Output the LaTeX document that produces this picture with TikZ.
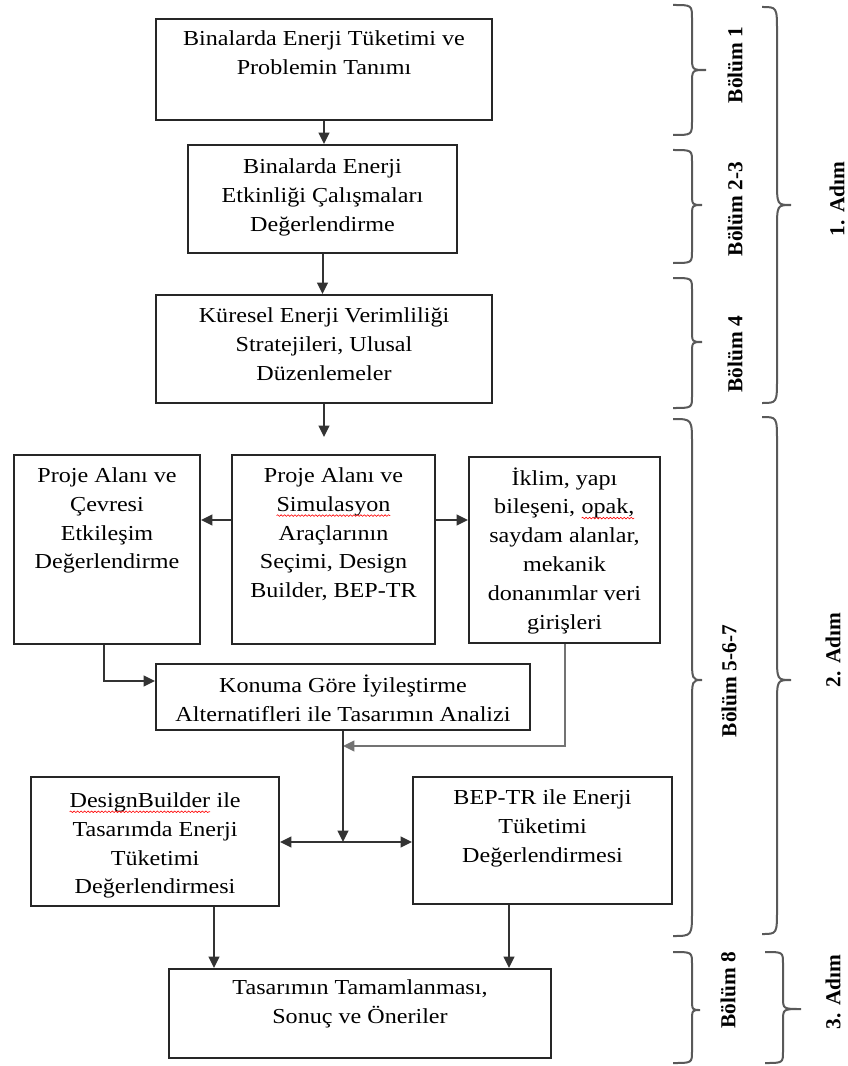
\documentclass[tikz,border=0pt]{standalone}
\usepackage{fontspec}
\setmainfont{Liberation Serif}[FakeStretch=1.13]
\newfontfamily\lblfont{Liberation Serif}
\usetikzlibrary{arrows.meta,calc,decorations.pathmorphing}
\newcommand\pxl[1]{\dimexpr #1pt*3/4\relax}
\newcommand\spell[1]{\tikz[baseline=(w.base)]{\node[inner sep=0pt,outer sep=0pt] (w) {#1};
  \draw[red, line width=0.45pt, decorate, decoration={snake, amplitude=0.6pt, segment length=2.6pt}]
   ([yshift=-3.2pt]w.base west) -- ([yshift=-3.2pt]w.base east);}}
\tikzset{
  box/.style={draw=black!85, line width=1.5pt, anchor=north west, inner sep=0pt,
    font=\fontsize{16}{21.6}\selectfont},
  arr/.style={draw=black!80, line width=1.5pt, -{Triangle[length=8.5pt,width=8pt]}},
  arrg/.style={draw=black!55, line width=1.5pt, -{Triangle[length=8.5pt,width=8pt]}},
  brc/.style={draw=black!65, line width=1.5pt},
  lbl/.style={rotate=90, inner sep=0pt, font=\lblfont\fontsize{16}{19}\selectfont\bfseries}
}
\newcommand\boxnode[7]{\node[box] (#1) at (#2,#3) {\parbox[c][\pxl{#5}][t]{\pxl{#4}}{\centering\rule{0pt}{\pxl{#6}}#7}};}
\newcommand\mybrace[7]{\draw[brc] (#1,#4) .. controls (#2,#4) and (#2,#4) .. (#2,{#4+#7}) -- (#2,{#5-#7}) .. controls (#2,#5) and (#2,#5) .. (#3,#5) .. controls (#2,#5) and (#2,#5) .. (#2,{#5+#7}) -- (#2,{#6-#7}) .. controls (#2,#6) and (#2,#6) .. (#1,#6);}
\begin{document}
\begin{tikzpicture}[x=0.75pt, y={(0pt,-0.75pt)}]
\fill[white] (0,0) rectangle (847,1066);
\useasboundingbox (0,0) rectangle (847,1066);

\boxnode{b1}{155}{18}{336}{101}{27}{Binalarda Enerji Tüketimi ve\\Problemin Tanımı}
\boxnode{b2}{187}{144}{269}{108}{29}{Binalarda Enerji\\Etkinliği Çalışmaları\\Değerlendirme}
\boxnode{b3}{155}{294}{336}{108}{27.5}{Küresel Enerji Verimliliği\\Stratejileri, Ulusal\\Düzenlemeler}
\boxnode{pl}{13}{454}{186}{189}{27.5}{Proje Alanı ve\\Çevresi\\Etkileşim\\Değerlendirme}
\boxnode{pc}{231}{454}{203}{189}{27.5}{Proje Alanı ve\\\spell{Simulasyon}\\Araçlarının\\Seçimi, Design\\Builder, BEP-TR}
\boxnode{pr}{468}{456}{191}{186}{28}{İklim, yapı\\bileşeni, \spell{opak,}\\saydam alanlar,\\mekanik\\donanımlar veri\\girişleri}
\boxnode{kn}{155}{663}{374}{66}{28.5}{Konuma Göre İyileştirme\\Alternatifleri ile Tasarımın Analizi}
\boxnode{db}{30}{776}{248}{129}{30.5}{\spell{DesignBuilder} ile\\Tasarımda Enerji\\Tüketimi\\Değerlendirmesi}
\boxnode{bp}{412}{776}{259}{127}{27.5}{BEP-TR ile Enerji\\Tüketimi\\Değerlendirmesi}
\boxnode{tt}{168}{968}{382}{89}{25.5}{Tasarımın Tamamlanması,\\Sonuç ve Öneriler}

% connectors
\draw[arr] (b1.south) -- (b1.south |- b2.north);
\draw[arr] (b2.south) -- (b2.south |- b3.north);
\draw[arr, shorten >=12.75pt] (b3.south) -- (b3.south |- pc.north);
\coordinate (pcw) at ($(pc.west)+(0,-29.5)$);
\coordinate (pce) at ($(pc.east)+(0,-29.5)$);
\draw[arr] (pcw) -- (pcw -| pl.east);
\draw[arr] (pce) -- (pce -| pr.west);
\coordinate (plb) at ($(pl.south)+(-3,0)$);
\coordinate (knw) at ($(kn.west)+(0,-16)$);
\draw[arr] (plb) |- (knw);
\coordinate (j1) at ($(kn.south)+(0,15)$);
\coordinate (j) at ($(kn.south)+(0,111)$);
\draw[arrg] (pr.south) |- (j1);
\draw[arr] (kn.south) -- (j);
\draw[arr] (j) -- (j -| db.east);
\draw[arr] (j) -- (j -| bp.west);
\coordinate (d1) at ($(db.south)+(59,0)$);
\coordinate (d2) at ($(bp.south)+(-33.5,0)$);
\draw[arr] (d1) -- (d1 |- tt.north);
\draw[arr] (d2) -- (d2 |- tt.north);

% braces
\mybrace{673}{692}{706}{5}{70}{135}{14}
\mybrace{673}{692}{702}{150}{205}{263}{12}
\mybrace{673}{692}{702}{278}{342}{408}{12}
\mybrace{762}{777}{791}{7}{205}{403}{25}
\mybrace{673}{692}{702}{419}{680}{936}{25}
\mybrace{762}{777}{791}{417}{680}{934}{25}
\mybrace{673}{692}{700}{952}{1010}{1063}{12}
\mybrace{765}{783}{801}{952}{1009}{1063}{12}

% labels
\node[lbl] (l1) at (735,65) {Bölüm 1};
\node[lbl] (l2) at (735,209) {Bölüm 2-3};
\node[lbl] (l3) at (735,354) {Bölüm 4};
\node[lbl] (l4) at (729,681) {Bölüm 5-6-7};
\node[lbl] (l5) at (728,990) {Bölüm 8};
\node[lbl] (a1) at (837,199) {1. Adım};
\node[lbl] (a2) at (833,650) {2. Adım};
\node[lbl] (a3) at (833,992) {3. Adım};
\end{tikzpicture}
\end{document}
